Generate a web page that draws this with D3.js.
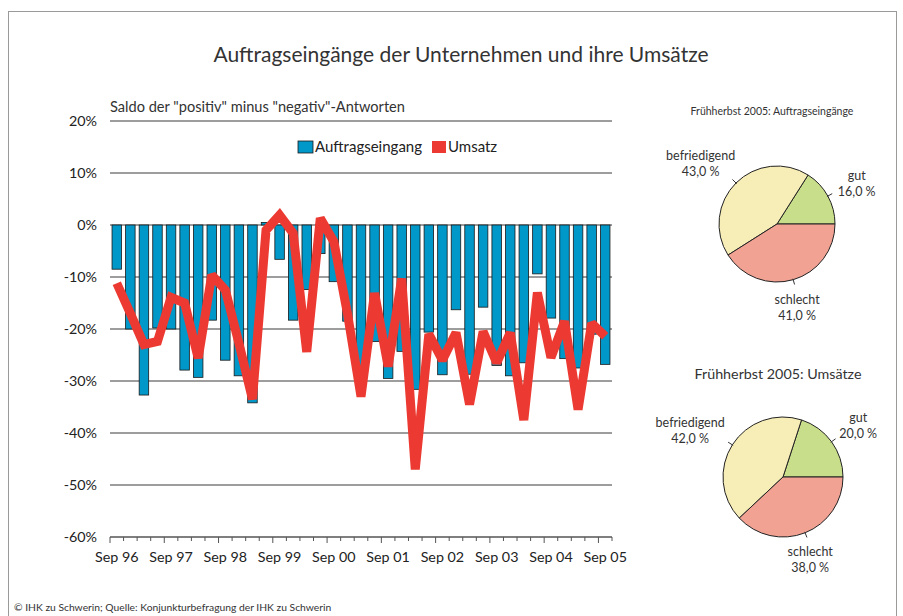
<!DOCTYPE html>
<html>
<head>
<meta charset="utf-8">
<script src="https://cdn.jsdelivr.net/npm/d3@7"></script>
<style>
  body { margin: 0; background: #fff; }
  svg { display: block; font-family: Lato, "Open Sans", sans-serif; }
</style>
</head>
<body>
<svg></svg>
<script>

// survey periods (quarterly), Sep 96 .. Sep 05
var periods = ["Sep 96","Dez 96","Mrz 97","Jun 97","Sep 97","Dez 97","Mrz 98","Jun 98",
               "Sep 98","Dez 98","Mrz 99","Jun 99","Sep 99","Dez 99","Mrz 00","Jun 00",
               "Sep 00","Dez 00","Mrz 01","Jun 01","Sep 01","Dez 01","Mrz 02","Jun 02",
               "Sep 02","Dez 02","Mrz 03","Jun 03","Sep 03","Dez 03","Mrz 04","Jun 04",
               "Sep 04","Dez 04","Mrz 05","Jun 05","Sep 05"];

var auftrag = [-8.5,-20,-32.7,-19.8,-20,-27.9,-29.3,-18.3,-26,-29,-34.2,0.5,-6.6,-18.3,-12.4,-5.5,
               -10.9,-18.5,-30,-22.4,-29.5,-24.3,-31.6,-20.6,-28.8,-16.3,-28.7,-15.8,-27,-29,
               -26.5,-9.4,-17.9,-25.7,-27.5,-21,-26.8];

var umsatz = [-11.2,-17,-23,-22.4,-13.9,-15,-25.6,-9.6,-12.5,-22.7,-33.5,-1,1.9,-1.6,-24.4,1.3,
              -3.2,-17,-33,-13.1,-27.2,-10.3,-47,-21,-26,-20.7,-34.5,-20.5,-26.5,-20.7,
              -37.5,-13,-25.5,-18.5,-35.5,-18.9,-21.4];

var yTicks = [20, 10, 0, -10, -20, -30, -40, -50, -60];
var xLabels = ["Sep 96","Sep 97","Sep 98","Sep 99","Sep 00","Sep 01","Sep 02","Sep 03","Sep 04","Sep 05"];

var pieNames = ["gut", "befriedigend", "schlecht"];
var pieAuftrag = [16, 43, 41];
var pieUmsatz = [20, 42, 38];

var blue = "#0097c9", red = "#ec3a32";
var pieColors = ["#c9de8a", "#f7edb6", "#f1a293"];

var svg = d3.select("svg").attr("width", 903).attr("height", 616);

// frame
svg.append("rect").attr("x", 8.5).attr("y", 11.5).attr("width", 888).attr("height", 640)
    .attr("fill", "none").attr("stroke", "#9a9a9a");

svg.append("text").attr("x", 461).attr("y", 62).attr("text-anchor", "middle")
    .attr("font-size", 21).attr("fill", "#333")
    .text("Auftragseingänge der Unternehmen und ihre Umsätze");

svg.append("text").attr("x", 110).attr("y", 112)
    .attr("font-size", 14.6).attr("fill", "#333")
    .text('Saldo der "positiv" minus "negativ"-Antworten');

svg.append("text").attr("x", 14).attr("y", 611)
    .attr("font-size", 10.3).attr("fill", "#333")
    .text("© IHK zu Schwerin; Quelle: Konjunkturbefragung der IHK zu Schwerin");

// bar/line chart
var x = d3.scaleBand().domain(periods).range([110, 612]).paddingInner(0.3).paddingOuter(0.15);
var y = d3.scaleLinear().domain([-60, 20]).range([537, 121]);

var grid = svg.append("g");
grid.selectAll("line").data(yTicks.filter(function(d){ return d > -60; })).enter().append("line")
    .attr("x1", 110).attr("x2", 612)
    .attr("y1", function(d){ return y(d); }).attr("y2", function(d){ return y(d); })
    .attr("stroke", "#7d7d7d").attr("stroke-width", 1.4);

svg.append("g").selectAll("text").data(yTicks).enter().append("text")
    .attr("x", 97).attr("y", function(d){ return y(d) + 5; })
    .attr("text-anchor", "end").attr("font-size", 14.3).attr("fill", "#222")
    .text(function(d){ return (d < 0 ? "-" : "") + Math.abs(d) + "%"; });

svg.append("g").selectAll("rect").data(auftrag).enter().append("rect")
    .attr("x", function(d, i){ return x(periods[i]); })
    .attr("width", x.bandwidth())
    .attr("y", function(d){ return y(Math.max(0, d)); })
    .attr("height", function(d){ return Math.abs(y(d) - y(0)); })
    .attr("fill", blue).attr("stroke", "#1a1a1a").attr("stroke-width", 0.8);

var line = d3.line()
    .x(function(d, i){ return x(periods[i]) + x.bandwidth() / 2; })
    .y(function(d){ return y(d); });

svg.append("path").datum(umsatz).attr("d", line)
    .attr("fill", "none").attr("stroke", red).attr("stroke-width", 9)
    .attr("stroke-linejoin", "miter").attr("stroke-miterlimit", 2);

// x axis
var xAxis = svg.append("g");
xAxis.append("line").attr("x1", 110).attr("x2", 612).attr("y1", y(-60)).attr("y2", y(-60))
    .attr("stroke", "#555").attr("stroke-width", 1.4);
var bounds = periods.map(function(p){ return x(p) - x.step() * x.paddingInner() / 2; });
bounds.push(612);
xAxis.selectAll(".tk").data(bounds).enter().append("line")
    .attr("x1", function(d){ return d; }).attr("x2", function(d){ return d; })
    .attr("y1", y(-60)).attr("y2", function(d, i){ return y(-60) + (i % 4 == 0 ? 6 : 4); })
    .attr("stroke", "#555");
xAxis.selectAll("text").data(xLabels).enter().append("text")
    .attr("x", function(d){ return x(d) + x.bandwidth() / 2; })
    .attr("y", 562).attr("text-anchor", "middle").attr("font-size", 14.3).attr("fill", "#222")
    .text(function(d){ return d; });

// legend
var lg = svg.append("g").attr("font-size", 15).attr("fill", "#222");
lg.append("rect").attr("x", 298).attr("y", 141).attr("width", 15).attr("height", 12)
    .attr("fill", blue).attr("stroke", "#1a1a1a").attr("stroke-width", 0.8);
lg.append("text").attr("x", 315).attr("y", 152).text("Auftragseingang");
lg.append("rect").attr("x", 432).attr("y", 141).attr("width", 14).attr("height", 12).attr("fill", red);
lg.append("text").attr("x", 448).attr("y", 152).text("Umsatz");

// pies
function drawPie(values, cx, cy, r, title, titleY, titleSize) {
    svg.append("text").attr("x", cx - 5).attr("y", titleY).attr("text-anchor", "middle")
        .attr("font-size", titleSize).attr("fill", "#333").text(title);

    var pie = d3.pie().sort(null).startAngle(Math.PI / 2).endAngle(Math.PI / 2 - 2 * Math.PI);
    var arcs = pie(values);
    var arc = d3.arc().innerRadius(0).outerRadius(r);
    var g = svg.append("g").attr("transform", "translate(" + cx + "," + cy + ")");

    g.selectAll("path").data(arcs).enter().append("path")
        .attr("d", arc)
        .attr("fill", function(d, i){ return pieColors[i]; })
        .attr("stroke", "#222").attr("stroke-width", 1);

    arcs.forEach(function(a, i) {
        var m = (a.startAngle + a.endAngle) / 2;
        var sx = Math.sin(m), sy = -Math.cos(m);
        g.append("line")
            .attr("x1", sx * (r - 1)).attr("y1", sy * (r - 1))
            .attr("x2", sx * (r + 5)).attr("y2", sy * (r + 5))
            .attr("stroke", "#333");
        var half = pieNames[i] == "befriedigend" ? 36 : (pieNames[i] == "gut" ? 19 : 0);
        var lx = sx * (r + 14) + sx * half;
        var ly = sy * (r + 14) + sy * 14;
        var t = g.append("text").attr("text-anchor", "middle").attr("font-size", 12.5).attr("fill", "#333");
        t.append("tspan").attr("x", lx).attr("y", ly - 3).text(pieNames[i]);
        t.append("tspan").attr("x", lx).attr("y", ly + 13).text(values[i].toFixed(1).replace(".", ",") + " %");
    });
}

drawPie(pieAuftrag, 777, 224, 58, "Frühherbst 2005: Auftragseingänge", 115, 10.5);
drawPie(pieUmsatz, 783, 477, 60, "Frühherbst 2005: Umsätze", 379, 14.3);

</script>
</body>
</html>
